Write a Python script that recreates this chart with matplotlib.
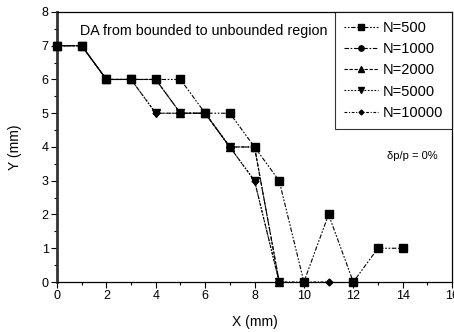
import matplotlib
matplotlib.use("Agg")
import matplotlib.pyplot as plt
from matplotlib.ticker import MultipleLocator

plt.rcParams['font.family'] = ['Liberation Sans', 'DejaVu Sans']

labels = ["N=500", "N=1000", "N=2000", "N=5000", "N=10000"]

x500 = [0, 1, 2, 3, 4, 5, 6, 7, 8, 9, 10, 11, 12, 13, 14]
y500 = [7, 7, 6, 6, 6, 6, 5, 5, 4, 3, 0, 2, 0, 1, 1]

x1000 = [0, 1, 2, 3, 4, 5, 6, 7, 8, 9]
y1000 = [7, 7, 6, 6, 6, 5, 5, 4, 4, 0]

x2000 = [0, 1, 2, 3, 4, 5, 6, 7, 8, 9]
y2000 = [7, 7, 6, 6, 6, 5, 5, 4, 4, 0]

x5000 = [0, 1, 2, 3, 4, 5, 6, 7, 8, 9]
y5000 = [7, 7, 6, 6, 5, 5, 5, 4, 3, 0]

x10000 = [0, 1, 2, 3, 4, 5, 6, 7, 8, 9, 10, 11]
y10000 = [7, 7, 6, 6, 5, 5, 5, 4, 3, 0, 0, 0]

series = [
    (x500, y500, 's', 5.5, (0, (1.5, 1.5, 1.5, 1.5, 4, 1.5))),
    (x1000, y1000, 'o', 5.5, (0, (4, 1.5, 1.5, 1.5))),
    (x2000, y2000, '^', 5.5, (0, (3, 1.5))),
    (x5000, y5000, 'v', 5.5, (0, (1.5, 1.5))),
    (x10000, y10000, 'D', 3.5, (0, (2.5, 1.5, 1, 1.5))),
]

fig = plt.figure(figsize=(4.54, 3.32), dpi=100)
ax = fig.add_axes([0.1256, 0.1506, 0.8700, 0.8134])

for (xs, ys, mk, ms, ls), lab in zip(series, labels):
    ax.plot(xs, ys, color='black', linewidth=0.8, linestyle=ls,
            marker=mk, markersize=ms, markerfacecolor='black',
            markeredgecolor='black', label=lab, clip_on=False, zorder=3)

ax.set_xlim(0, 16)
ax.set_ylim(0, 8)
ax.xaxis.set_major_locator(MultipleLocator(2))
ax.xaxis.set_minor_locator(MultipleLocator(1))
ax.yaxis.set_major_locator(MultipleLocator(1))
ax.yaxis.set_minor_locator(MultipleLocator(0.5))
ax.tick_params(which='major', direction='out', length=4, width=0.8, labelsize=9, pad=2)
ax.tick_params(which='minor', direction='out', length=2.5, width=0.8)
ax.spines['left'].set_linewidth(2.0)
ax.spines['left'].set_color('#333333')
for s in ['top', 'right', 'bottom']:
    ax.spines[s].set_linewidth(0.9)

ax.set_xlabel("X (mm)", fontsize=10, labelpad=9)
ax.set_ylabel("Y (mm)", fontsize=10, labelpad=14)

ax.text(0.95, 7.45, "DA from bounded to unbounded region", fontsize=10.3,
        va='center')
ax.text(13.35, 3.73, "δp/p = 0%", fontsize=8, va='center')

leg = ax.legend(loc='upper right', bbox_to_anchor=(1.0, 1.0), fontsize=10.5,
                frameon=True, fancybox=False, edgecolor='black',
                handlelength=2.3, handletextpad=0.35, borderpad=0.6,
                labelspacing=0.5, borderaxespad=0.0, markerscale=0.7)
leg.get_frame().set_linewidth(0.8)

fig.savefig("out.png", dpi=100)
